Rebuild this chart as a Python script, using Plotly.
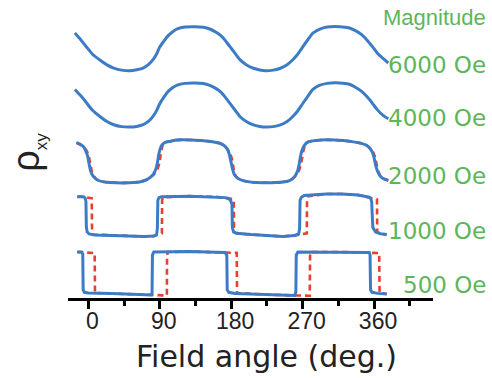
import plotly.graph_objects as go

# ---------------- data (angle in deg, rho_xy in arb. units) ----------------
fields = ["6000 Oe", "4000 Oe", "2000 Oe", "1000 Oe", "500 Oe"]
offsets = [11.87, 9.19, 6.48, 3.90, 1.19]

ang_6000 = [-17, -10, -3, 5, 15, 24, 32, 42, 52, 61, 69, 76, 82, 86, 90, 95, 100, 106, 112, 122, 134,
            145, 153, 161, 167, 172, 178, 185, 191, 199, 208, 216, 223, 233, 242, 250, 257, 263, 270,
            277, 283, 291, 301, 317, 328, 336, 344, 351, 358, 364, 371, 378]
rho_6000 = [0.75, 0.45, 0.12, -0.25, -0.55, -0.78, -0.92, -1.02, -1.05, -1.0, -0.92, -0.75, -0.5, -0.25,
            0.08, 0.35, 0.6, 0.8, 0.94, 1.03, 1.05, 1.02, 0.94, 0.78, 0.62, 0.42, 0.12, -0.22, -0.52,
            -0.76, -0.93, -1.01, -1.05, -1.02, -0.93, -0.78, -0.55, -0.3, 0.08, 0.45, 0.74, 0.92, 1.03,
            1.05, 1.0, 0.87, 0.68, 0.42, 0.1, -0.2, -0.45, -0.68]

ang_4000 = [-17, -10, -3, 5, 15, 24, 32, 42, 52, 61, 69, 76, 82, 86, 90, 95, 100, 106, 112, 122, 134,
            145, 153, 161, 167, 172, 178, 185, 191, 199, 208, 216, 223, 233, 242, 250, 257, 263, 270,
            277, 283, 291, 301, 317, 328, 336, 344, 351, 358, 364, 371, 378]
rho_4000 = [0.74, 0.46, 0.14, -0.24, -0.56, -0.8, -0.94, -1.03, -1.05, -1.02, -0.94, -0.77, -0.52, -0.27,
            0.06, 0.36, 0.62, 0.82, 0.95, 1.03, 1.05, 1.02, 0.93, 0.78, 0.61, 0.4, 0.1, -0.25, -0.55,
            -0.79, -0.95, -1.02, -1.05, -1.03, -0.95, -0.8, -0.57, -0.32, 0.06, 0.44, 0.74, 0.93, 1.03,
            1.05, 1.0, 0.86, 0.66, 0.4, 0.08, -0.22, -0.48, -0.66]

ang_2000 = [-15, -10, -6, -3, -1, 1, 3, 6, 11, 18, 27, 45, 57, 66, 73, 78, 82, 85, 87, 88.5, 90.5, 93,
            97, 105, 116, 130, 145, 158, 166, 171, 175, 177.5, 179.5, 181.5, 184, 188, 194, 203, 212,
            237, 250, 256, 260, 263.5, 265.5, 267, 269, 272, 277, 287, 300, 315, 326, 338, 346, 351,
            355, 358, 360, 362, 364.5, 368, 372, 378]
rho_2000 = [0.92, 0.84, 0.72, 0.5, 0.3, -0.1, -0.45, -0.68, -0.85, -0.94, -0.98, -1.0, -0.98, -0.94,
            -0.86, -0.74, -0.58, -0.35, -0.05, 0.3, 0.62, 0.82, 0.93, 1.0, 1.05, 1.04, 1.01, 0.95, 0.88,
            0.78, 0.62, 0.38, 0.05, -0.3, -0.6, -0.77, -0.88, -0.95, -0.98, -0.98, -0.93, -0.84, -0.7,
            -0.45, -0.15, 0.2, 0.52, 0.78, 0.95, 1.02, 1.05, 1.03, 1.0, 0.93, 0.86, 0.78, 0.64, 0.45,
            0.2, -0.15, -0.45, -0.68, -0.8, -0.88]

ang_2000_r = [-15, -6, -2, 0.5, 2.5, 4.5, 7, 11, 18, 27, 45, 57, 66, 73, 78, 83, 87, 89.5, 91, 92.5, 94,
              97, 105, 116, 130, 145, 158, 166, 171, 175, 179, 181.5, 183, 185, 188, 194, 203, 212, 237,
              250, 256, 260, 265, 267.5, 269.5, 271, 273, 277, 287, 300, 315, 326, 338, 346, 351, 355,
              359, 361.5, 363.5, 365.5, 368, 372, 378]
rho_2000_r = [0.92, 0.72, 0.52, 0.3, -0.1, -0.45, -0.68, -0.85, -0.94, -0.98, -1.0, -0.98, -0.94, -0.86,
              -0.74, -0.58, -0.35, -0.05, 0.3, 0.62, 0.82, 0.93, 1.0, 1.05, 1.04, 1.01, 0.95, 0.88, 0.78,
              0.62, 0.38, 0.05, -0.3, -0.6, -0.77, -0.88, -0.95, -0.98, -0.98, -0.93, -0.84, -0.7, -0.45,
              -0.15, 0.2, 0.52, 0.78, 0.95, 1.02, 1.05, 1.03, 1.0, 0.93, 0.86, 0.78, 0.64, 0.45, 0.2,
              -0.15, -0.45, -0.68, -0.8, -0.88]

ang_1000 = [-14, -6, -4, -3, -2.5, -1.5, 1, 8, 40, 70, 83, 86, 87, 87.6, 89, 92, 128, 160, 172, 177,
            179.5, 181, 181.5, 183, 187, 205, 230, 245, 260, 265, 266.2, 266.8, 268.5, 272, 300, 320,
            340, 350, 354, 356, 357, 358.5, 362, 368, 376]
rho_1000 = [0.92, 0.92, 0.86, 0.7, -0.5, -0.75, -0.85, -0.9, -0.93, -0.97, -0.95, -0.88, -0.6, 0.75,
            0.88, 0.92, 0.95, 0.92, 0.88, 0.84, 0.72, 0.55, -0.55, -0.75, -0.82, -0.88, -0.95, -0.97,
            -0.92, -0.85, -0.6, 0.75, 0.9, 0.98, 1.05, 1.05, 1.0, 0.95, 0.9, 0.82, 0.7, -0.55, -0.76,
            -0.84, -0.88]

ang_1000_r = [-14, -6, 4.3, 4.7, 6, 40, 70, 83, 92.7, 93, 94.5, 128, 160, 177, 183.3, 183.6, 186, 205,
              230, 245, 260, 275.3, 275.6, 277, 300, 320, 340, 355, 363.7, 364, 368, 376]
rho_1000_r = [0.92, 0.92, 0.85, -0.8, -0.88, -0.93, -0.97, -0.95, -0.82, 0.78, 0.9, 0.95, 0.92, 0.84,
              0.8, -0.76, -0.82, -0.88, -0.95, -0.97, -0.92, -0.82, 0.8, 0.95, 1.05, 1.05, 1.0, 0.86,
              0.8, -0.75, -0.84, -0.88]

ang_500 = [-14, -8.5, -7, -6.5, -5, 0, 30, 60, 79.5, 80.3, 80.8, 82.5, 128, 172, 174.5, 175, 177, 185,
           220, 260, 261.5, 262, 264, 320, 354, 355, 355.6, 357.5, 365, 376]
rho_500 = [1.0, 1.0, 0.9, -0.8, -0.92, -0.95, -0.98, -1.02, -1.05, -0.95, 0.85, 1.0, 1.02, 0.98, 0.85,
           -0.8, -0.92, -0.97, -1.02, -1.07, -0.9, 0.85, 1.0, 1.0, 0.98, 0.85, -0.8, -0.92, -0.97, -1.0]

ang_500_r = [-14, 8, 8.4, 30, 60, 79.5, 99, 99.2, 100, 128, 172, 187, 187.4, 220, 260, 279, 279.4, 280,
             320, 354, 366.5, 367, 376]
rho_500_r = [1.0, 0.95, -0.95, -0.98, -1.02, -1.05, -1.07, 0.8, 1.0, 1.02, 0.98, 0.96, -0.95, -1.02,
             -1.07, -1.08, 0.8, 1.0, 1.0, 0.98, 0.95, -0.95, -1.0]

blue_series = [(ang_6000, rho_6000), (ang_4000, rho_4000), (ang_2000, rho_2000),
               (ang_1000, rho_1000), (ang_500, rho_500)]
red_series = [None, None, (ang_2000_r, rho_2000_r), (ang_1000_r, rho_1000_r), (ang_500_r, rho_500_r)]

tick_vals = [0, 90, 180, 270, 360]
tick_text = ["0", "90", "180", "270", "360"]
minor_vals = [45, 135, 225, 315, 405]

# ---------------- styles ----------------
BLUE = "#3c7cc6"
RED = "#e5412f"
GREEN = "#5db65a"
shapes = ["spline", "spline", "spline", "linear", "linear"]

fig = go.Figure()
for i, name in enumerate(fields):
    rs = red_series[i]
    if rs is not None:
        fig.add_trace(go.Scatter(
            x=rs[0], y=[v + offsets[i] for v in rs[1]], mode="lines",
            line=dict(color=RED, width=2.6, dash="6px,4px",
                      shape="spline" if shapes[i] == "spline" else "linear", smoothing=0.6),
            showlegend=False, hoverinfo="skip"))
for i, name in enumerate(fields):
    a, r = blue_series[i]
    fig.add_trace(go.Scatter(
        x=a, y=[v + offsets[i] for v in r], mode="lines", name=name,
        line=dict(color=BLUE, width=3, shape=shapes[i], smoothing=0.7),
        showlegend=False, hoverinfo="skip"))

annotations = []
label_y = [0.783, 0.603, 0.409, 0.224, 0.045]
annotations.append(dict(text="Magnitude", x=1.1507, y=0.94, xref="paper", yref="paper",
                        xanchor="right", yanchor="middle", showarrow=False,
                        font=dict(family="Liberation Sans, Arial, sans-serif", size=22, color=GREEN)))
for name, ly in zip(fields, label_y):
    annotations.append(dict(text=name, x=1.1507, y=ly, xref="paper", yref="paper",
                            xanchor="right", yanchor="middle", showarrow=False,
                            font=dict(family="DejaVu Sans, sans-serif", size=23, color=GREEN)))
annotations.append(dict(text="ρ<sub><span style='font-size:17px'>xy</span></sub>",
                        x=-0.11, y=0.49, xref="paper", yref="paper", textangle=-90,
                        xanchor="center", yanchor="middle", showarrow=False,
                        font=dict(family="Liberation Sans, Arial, sans-serif", size=38, color="#222")))
annotations.append(dict(text="Field angle (deg.)", x=0.545, y=-0.197, xref="paper", yref="paper",
                        xanchor="center", yanchor="middle", showarrow=False,
                        font=dict(family="DejaVu Sans, sans-serif", size=30, color="#222")))

fig.update_layout(
    width=492, height=378, autosize=False,
    margin=dict(l=68, r=59, t=0, b=80, pad=0),
    paper_bgcolor="white", plot_bgcolor="white",
    showlegend=False,
    annotations=annotations,
    xaxis=dict(range=[-25.6, 434.3], showgrid=False, zeroline=False,
               showline=True, linecolor="black", linewidth=3,
               ticks="outside", ticklen=8, tickwidth=3, tickcolor="black",
               tickvals=tick_vals, ticktext=tick_text, ticklabelstandoff=-8, ticklabelshift=4,
               tickfont=dict(family="Liberation Sans, Arial, sans-serif", size=23, color="#222"),
               minor=dict(tickvals=minor_vals, ticks="outside", ticklen=5, tickwidth=3,
                          tickcolor="black", showgrid=False)),
    yaxis=dict(range=[0, 14.19], visible=False, showgrid=False, zeroline=False),
)

fig.write_html("out.html")
